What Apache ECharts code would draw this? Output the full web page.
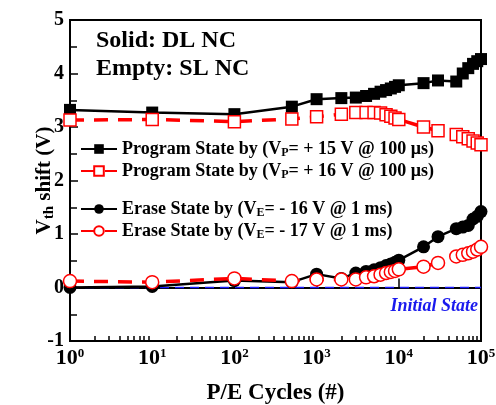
<!DOCTYPE html>
<html>
<head>
<meta charset="utf-8">
<script src="https://cdn.jsdelivr.net/npm/echarts@6/dist/echarts.min.js"></script>
<style>html,body{margin:0;padding:0;background:#fff;}#c{width:496px;height:405px;}</style>
</head>
<body>
<div id="c"></div>
<script>
var cycles = [1,10,100,500,1000,2000,3000,4000,5000,6000,7000,8000,9000,10000,20000,30000,50000,60000,70000,80000,90000,100000];
var progDL = [3.32,3.27,3.24,3.38,3.52,3.54,3.55,3.58,3.62,3.66,3.69,3.72,3.75,3.78,3.82,3.87,3.85,4.00,4.10,4.18,4.23,4.27];
var progSL = [3.13,3.14,3.10,3.15,3.19,3.24,3.27,3.27,3.27,3.26,3.23,3.20,3.17,3.14,3.00,2.93,2.86,2.82,2.78,2.74,2.70,2.67];
var eraseDL = [0.00,0.02,0.13,0.10,0.25,0.17,0.27,0.30,0.33,0.37,0.41,0.44,0.47,0.51,0.76,0.95,1.10,1.13,1.16,1.28,1.33,1.42];
var eraseSL = [0.12,0.10,0.17,0.12,0.15,0.15,0.15,0.19,0.21,0.24,0.27,0.29,0.31,0.34,0.39,0.46,0.58,0.61,0.64,0.67,0.71,0.76];
var initialX = [1,100000];
var initialY = [0,0];
var decades = [1,10,100,1000,10000];
var minorMult = [2,3,4,5,6,7,8,9];
var legendNames = {
  pDL: 'Program State by (V{s|P}= + 15 V @ 100 μs)',
  pSL: 'Program State by (V{s|P}= + 16 V @ 100 μs)',
  eDL: 'Erase State by (V{s|E}= - 16 V @ 1 ms)',
  eSL: 'Erase State by (V{s|E}= - 17 V @ 1 ms)'
};

var FONT = '"Liberation Serif","Times New Roman",serif';
function pairs(xs, ys){ return xs.map(function(x,i){ return [x, ys[i]]; }); }
var minorVals = [];
decades.forEach(function(d){ minorMult.forEach(function(m){ minorVals.push(d*m); }); });

var legendRich = {
  t: {fontFamily: FONT, fontWeight: 'bold', fontSize: 18, color: '#000', lineHeight: 20},
  s: {fontFamily: FONT, fontWeight: 'bold', fontSize: 12, color: '#000', verticalAlign: 'bottom', lineHeight: 16}
};
function legendFmt(name){
  var parts = legendNames[name].split(/(\{s\|[A-Z]\})/);
  return parts.map(function(p){ return p.indexOf('{s|')===0 ? p : (p ? '{t|' + p + '}' : ''); }).join('');
}

var chart = echarts.init(document.getElementById('c'), null, {renderer: 'canvas'});
chart.setOption({
  animation: false,
  backgroundColor: '#fff',
  grid: {left: 70, top: 20, width: 411, height: 321, show: true, borderColor: '#000', borderWidth: 2,
         backgroundColor: 'transparent', containLabel: false, outerBoundsMode: 'none'},
  legend: [{
    data: ['pDL','pSL'], orient: 'vertical', left: 80, top: 140, padding: 0, itemWidth: 36, itemHeight: 12, itemGap: 3,
    formatter: legendFmt, textStyle: {rich: legendRich}, selectedMode: false
  },{
    data: ['eDL','eSL'], orient: 'vertical', left: 80, top: 200, padding: 0, itemWidth: 36, itemHeight: 12, itemGap: 3,
    formatter: legendFmt, textStyle: {rich: legendRich}, selectedMode: false
  }],
  xAxis: [{
    type: 'log', logBase: 10, min: 1, max: 100000,
    axisLine: {lineStyle: {color: '#000', width: 2}},
    axisTick: {inside: true, length: 9, lineStyle: {color: '#000', width: 1.5}},
    splitLine: {show: false},
    axisLabel: {
      margin: 6,
      formatter: function(v){ return '{a|10}{b|' + Math.round(Math.log10(v)) + '}'; },
      rich: {
        a: {fontFamily: FONT, fontWeight: 'bold', fontSize: 22, color: '#000', lineHeight: 22},
        b: {fontFamily: FONT, fontWeight: 'bold', fontSize: 13, color: '#000', verticalAlign: 'top', lineHeight: 14}
      }
    },
    name: 'P/E Cycles (#)', nameLocation: 'middle', nameGap: 41, nameMoveOverlap: false,
    nameTextStyle: {fontFamily: FONT, fontWeight: 'bold', fontSize: 23, color: '#000'}
  },{
    type: 'log', logBase: 10, min: 1, max: 100000, position: 'bottom',
    axisLine: {show: false},
    axisLabel: {show: false},
    splitLine: {show: false},
    axisTick: {show: true, inside: true, length: 5, customValues: minorVals, lineStyle: {color: '#000', width: 1.5}}
  }],
  yAxis: {
    type: 'value', min: -1, max: 5, interval: 1,
    axisLine: {show: true, lineStyle: {color: '#000', width: 2}},
    axisTick: {inside: true, length: 8, lineStyle: {color: '#000', width: 1.5}},
    minorTick: {show: true, splitNumber: 2, length: 7, lineStyle: {color: '#000', width: 1.5}},
    splitLine: {show: false},
    axisLabel: {fontFamily: FONT, fontWeight: 'bold', fontSize: 20, color: '#000', margin: 6},
    name: '{a|V}{b|th}{a| shift (V)}', nameLocation: 'middle', nameGap: 13, nameRotate: 90, nameMoveOverlap: false,
    nameTextStyle: {
      fontFamily: FONT, fontWeight: 'bold', fontSize: 21, color: '#000',
      rich: {
        a: {fontFamily: FONT, fontWeight: 'bold', fontSize: 21, color: '#000', lineHeight: 24},
        b: {fontFamily: FONT, fontWeight: 'bold', fontSize: 15, color: '#000', verticalAlign: 'bottom', lineHeight: 18}
      }
    }
  },
  series: [
    {name: 'init', type: 'line', data: pairs(initialX, initialY), symbol: 'none', silent: true,
     lineStyle: {color: '#1a1aff', width: 1.5, type: [9, 6]}, z: 1},
    {name: 'pDL', type: 'line', data: pairs(cycles, progDL), symbol: 'rect', symbolSize: 12,
     itemStyle: {color: '#000'}, lineStyle: {color: '#000', width: 2.5}, z: 2},
    {name: 'eDL', type: 'line', data: pairs(cycles, eraseDL), symbol: 'circle', symbolSize: 13,
     itemStyle: {color: '#000'}, lineStyle: {color: '#000', width: 2.5}, z: 2},
    {name: 'pSL', type: 'line', data: pairs(cycles, progSL), symbol: 'rect', symbolSize: 12,
     itemStyle: {color: '#fff', borderColor: '#ff0000', borderWidth: 1.5}, lineStyle: {color: '#ff0000', width: 3.5, type: [14, 10]}, z: 3},
    {name: 'eSL', type: 'line', data: pairs(cycles, eraseSL), symbol: 'circle', symbolSize: 13,
     itemStyle: {color: '#fff', borderColor: '#ff0000', borderWidth: 1.5}, lineStyle: {color: '#ff0000', width: 3.5, type: [14, 10]}, z: 3}
  ],
  graphic: [
    {type: 'text', left: 96, top: 29, style: {text: 'Solid: DL NC', font: 'bold 24px ' + FONT, fill: '#000'}},
    {type: 'text', left: 96, top: 57, style: {text: 'Empty: SL NC', font: 'bold 24px ' + FONT, fill: '#000'}},
    {type: 'text', right: 18, top: 297, style: {text: 'Initial State', font: 'italic bold 18px ' + FONT, fill: '#1a1aee'}}
  ]
});
</script>
</body>
</html>
